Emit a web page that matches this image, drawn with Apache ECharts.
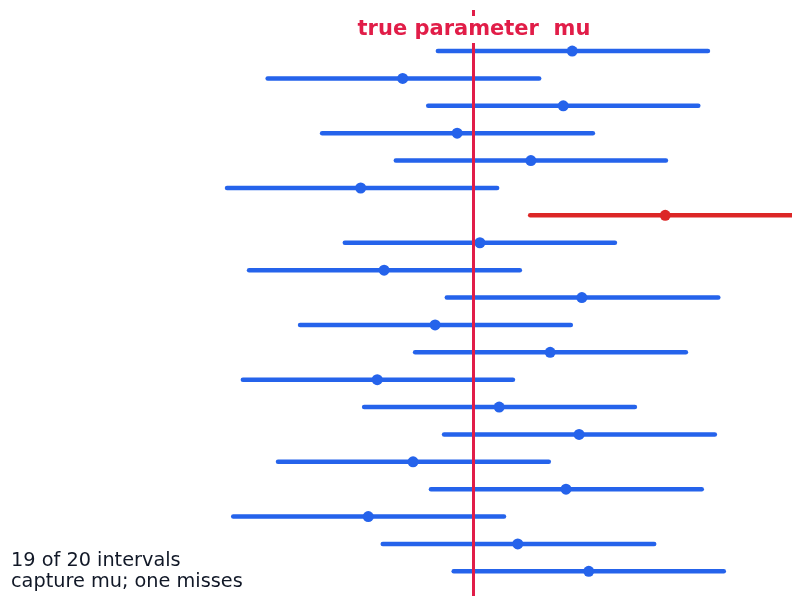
<!DOCTYPE html>
<html>
<head>
<meta charset="utf-8">
<script src="https://cdn.jsdelivr.net/npm/echarts@6/dist/echarts.min.js"></script>
<style>
  html, body { margin: 0; padding: 0; background: #ffffff; }
  #chart { width: 792px; height: 596px; }
</style>
</head>
<body>
<div id="chart"></div>
<script>
// True parameter value
const mu = 0;

// Twenty 95% confidence intervals, top to bottom: lower bound, point estimate, upper bound
const lower    = [-0.51, -2.98, -0.65, -2.19, -1.12, -3.57, 0.83, -1.86, -3.25, -0.38,
                  -2.51, -0.84, -3.34, -1.58, -0.42, -2.83, -0.61, -3.48, -1.31, -0.28];
const estimate = [ 1.44, -1.02,  1.31, -0.23,  0.84, -1.63, 2.79,  0.10, -1.29,  1.58,
                  -0.55,  1.12, -1.39,  0.38,  1.54, -0.87,  1.35, -1.52,  0.65,  1.68];
const upper    = [ 3.41,  0.96,  3.27,  1.74,  2.80,  0.35, 4.75,  2.06,  0.68,  3.56,
                   1.42,  3.09,  0.58,  2.35,  3.51,  1.10,  3.32,  0.45,  2.63,  3.64];

const titleText = 'true parameter  mu';
const noteText = '19 of 20 intervals\ncapture mu; one misses';

const HIT = '#2563eb';
const MISS = '#dc2626';
const MU_COLOR = '#e11d48';

const rows = estimate.map((e, i) => [i + 1, lower[i], e, upper[i]]);

const chart = echarts.init(document.getElementById('chart'), null, { renderer: 'canvas' });

chart.setOption({
  animation: false,
  backgroundColor: '#ffffff',
  grid: { left: 0, right: 0, top: 10, bottom: 0 },
  xAxis: {
    type: 'value', min: -6.865, max: 4.63,
    show: false, splitLine: { show: false }
  },
  yAxis: {
    type: 'value', min: -0.5, max: 20.9, inverse: true,
    show: false, splitLine: { show: false }
  },
  series: [
    {
      type: 'custom',
      clip: true,
      data: rows,
      encode: { x: [1, 2, 3], y: 0 },
      renderItem: function (params, api) {
        const y = api.value(0);
        const lo = api.value(1), est = api.value(2), hi = api.value(3);
        const p0 = api.coord([lo, y]);
        const p1 = api.coord([hi, y]);
        const pc = api.coord([est, y]);
        const color = (lo <= mu && hi >= mu) ? HIT : MISS;
        return {
          type: 'group',
          children: [
            {
              type: 'line',
              shape: { x1: p0[0], y1: p0[1], x2: p1[0], y2: p1[1] },
              style: { stroke: color, lineWidth: 4.5, lineCap: 'round' }
            },
            {
              type: 'circle',
              shape: { cx: pc[0], cy: pc[1], r: 5.5 },
              style: { fill: color }
            }
          ]
        };
      },
      markLine: {
        silent: true,
        symbol: 'none',
        label: { show: false },
        lineStyle: { color: MU_COLOR, width: 3, type: 'solid' },
        data: [{ xAxis: mu }]
      },
      z: 2
    }
  ],
  graphic: [
    {
      type: 'text',
      z: 10,
      style: {
        text: titleText,
        x: 474, y: 29.5,
        textAlign: 'center', textVerticalAlign: 'middle',
        font: 'bold 21px "DejaVu Sans"',
        fill: MU_COLOR,
        backgroundColor: '#ffffff',
        padding: [3, 4, 3, 4]
      }
    },
    {
      type: 'text',
      z: 10,
      style: {
        text: noteText,
        x: 11, y: 571,
        textAlign: 'left', textVerticalAlign: 'middle',
        font: '19.3px "DejaVu Sans"',
        lineHeight: 21,
        fill: '#111827'
      }
    }
  ]
});
</script>
</body>
</html>
